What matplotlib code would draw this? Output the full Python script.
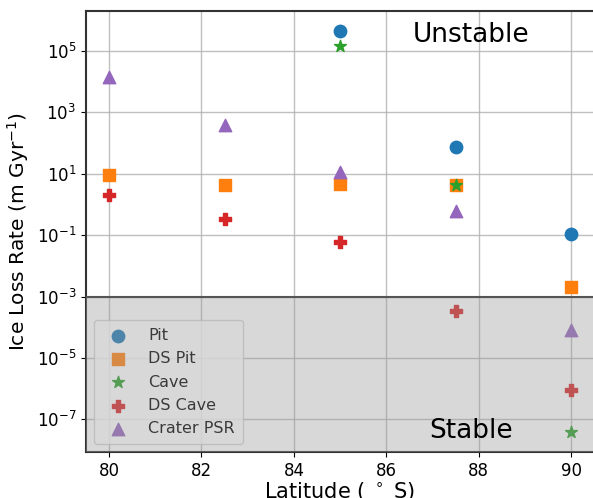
import matplotlib
matplotlib.use("Agg")
import matplotlib.pyplot as plt

lat = [80, 82.5, 85, 87.5, 90]
pit_lat = [85, 87.5, 90]
pit = [4.5e5, 74, 0.107]
ds_pit = [9.0, 4.4, 4.6, 4.4, 2.0e-3]
cave_lat = [85, 87.5, 90]
cave = [1.4e5, 4.2, 3.8e-8]
ds_cave = [2.1, 0.34, 0.06, 3.5e-4, 9.0e-7]
crater = [1.4e4, 4.0e2, 11.0, 0.63, 8.0e-5]

fig = plt.figure(figsize=(5.93, 4.98), dpi=100)
ax = fig.add_axes([0.145, 0.092, 0.857, 0.886])

ms = 80
ax.scatter(pit_lat, pit, marker='o', s=ms, color='C0', label='Pit', zorder=3)
ax.scatter(lat, ds_pit, marker='s', s=ms, color='C1', label='DS Pit', zorder=3)
ax.scatter(cave_lat, cave, marker='*', s=ms, color='C2', label='Cave', zorder=3)
ax.scatter(lat, ds_cave, marker='P', s=ms, color='C3', label='DS Cave', zorder=3)
ax.scatter(lat, crater, marker='^', s=ms, color='C4', label='Crater PSR', zorder=3)

ax.set_yscale('log')
ax.set_xlim(79.5, 90.5)
ax.set_ylim(8.5e-9, 2e6)
ax.set_yticks([1e-7, 1e-5, 1e-3, 1e-1, 1e1, 1e3, 1e5])
ax.minorticks_off()
ax.set_xticks([80, 82, 84, 86, 88, 90])
ax.grid(True, color='#b0b0b0', linewidth=1.0, alpha=0.8)
ax.set_axisbelow(True)

leg = ax.legend(loc='lower left', fontsize=11.5, borderpad=0.5,
                labelspacing=0.52, handletextpad=0.9, framealpha=0.8,
                borderaxespad=0.5)
leg.set_zorder(5)

ax.axhspan(1e-10, 1e-3, facecolor='#9a9a9a', alpha=0.38, zorder=10, linewidth=0)
ax.axhline(1e-3, color='#555555', linewidth=1.5, zorder=11)

ax.text(0.757, 0.975, 'Unstable', transform=ax.transAxes, fontsize=19,
        ha='center', va='top', zorder=12)
ax.text(0.757, 0.018, 'Stable', transform=ax.transAxes, fontsize=19,
        ha='center', va='bottom', zorder=12)

ax.set_xlabel('Latitude ( $^\\circ$ S)', fontsize=15, labelpad=0)
ax.set_ylabel('Ice Loss Rate (m Gyr$^{-1}$)', fontsize=14.5)
ax.tick_params(labelsize=12)
for s in ax.spines.values():
    s.set_color('#333333')
    s.set_linewidth(1.5)

fig.savefig('out.png', dpi=100)
